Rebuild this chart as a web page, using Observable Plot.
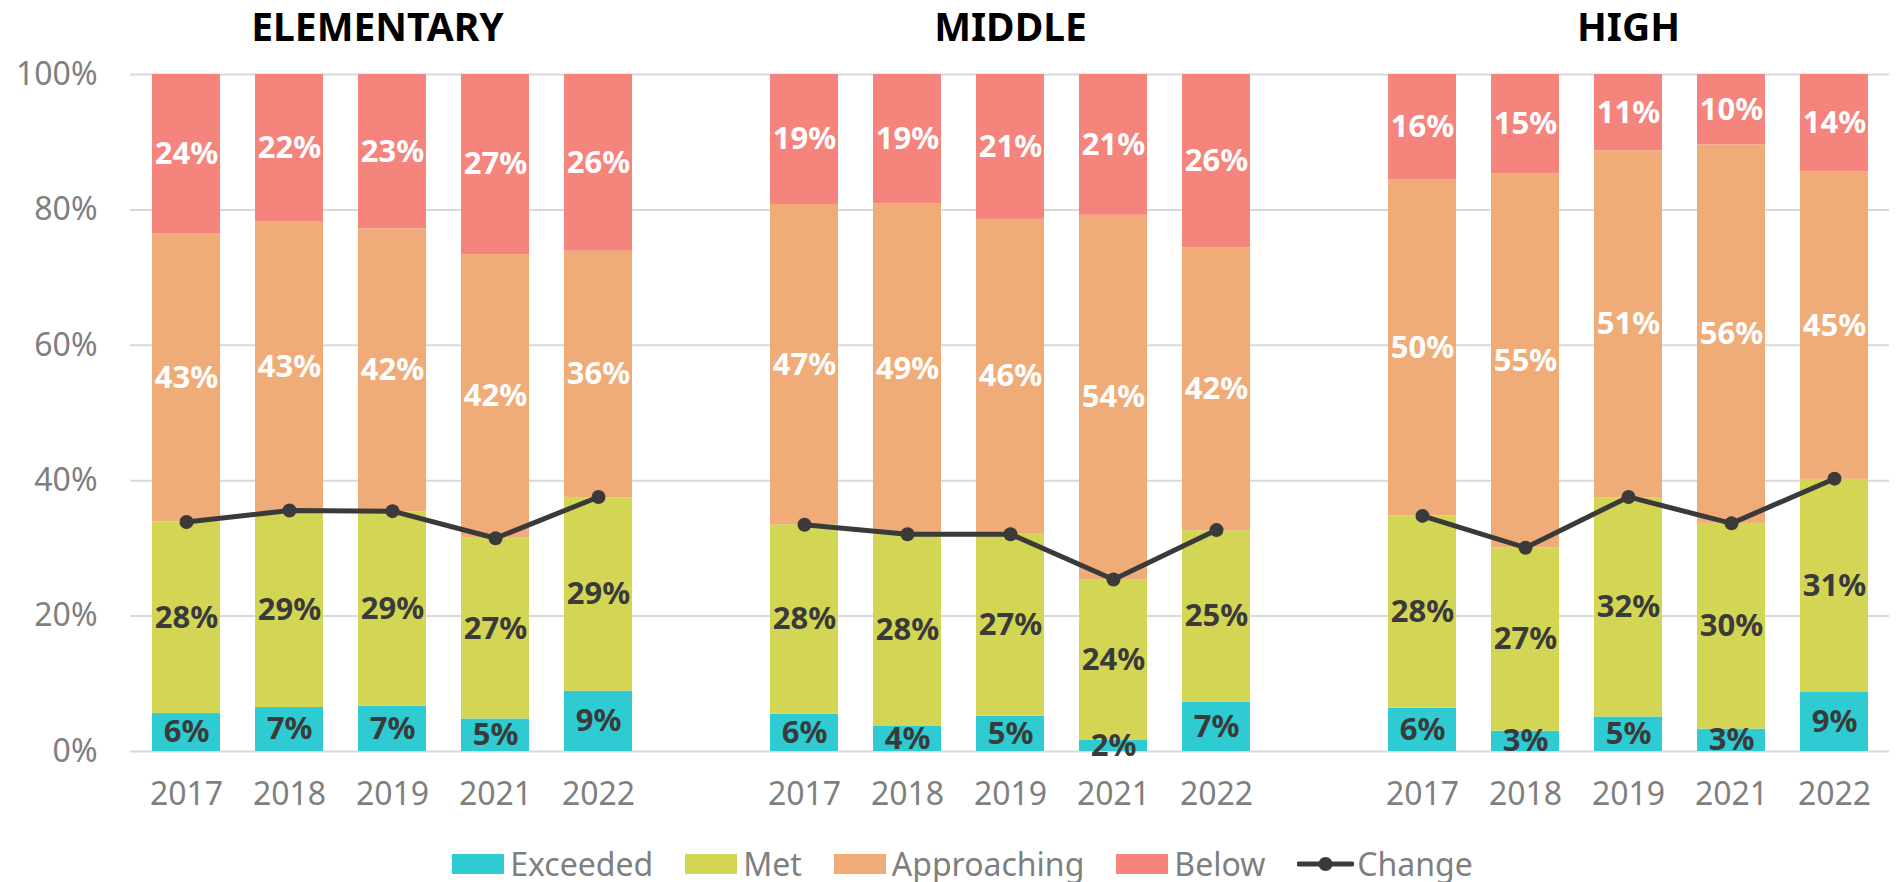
<!DOCTYPE html>
<html><head><meta charset="utf-8">
<script src="https://cdn.jsdelivr.net/npm/d3@7"></script>
<script src="https://cdn.jsdelivr.net/npm/@observablehq/plot@0.6"></script>
<style>
body{margin:0;background:#fff;font-family:"Noto Sans",sans-serif;}
#chart{width:1900px;}
.legend{display:flex;justify-content:center;align-items:center;height:37px;padding-left:25px;font-size:32px;color:#7f7f7f;font-family:"Noto Sans",sans-serif;}
.item{display:flex;align-items:center;margin:0 16px;}
.sw{width:52px;height:20px;margin-right:6px;}
</style></head><body><div id="chart"></div>
<script>
const groups = ["ELEMENTARY", "MIDDLE", "HIGH"];
const years = ["2017", "2018", "2019", "2021", "2022"];
const levels = ["Exceeded", "Met", "Approaching", "Below"];
const levelColors = ["#2ECBD2", "#D3D655", "#F0AC78", "#F4847C"];
const yTicks = [0, 20, 40, 60, 80, 100];

// values per group (ELEMENTARY, MIDDLE, HIGH), per year
const exceeded = [
  [5.6, 6.5, 6.7, 4.8, 8.9],
  [5.5, 3.7, 5.2, 1.7, 7.3],
  [6.4, 3.0, 5.1, 3.3, 8.8]
];
const met = [
  [28.3, 28.9, 28.7, 26.7, 28.6],
  [28.0, 28.4, 27.0, 23.7, 25.3],
  [28.4, 27.1, 32.4, 30.4, 31.4]
];
const approaching = [
  [42.6, 42.8, 41.8, 41.9, 36.4],
  [47.3, 48.8, 46.4, 53.8, 41.8],
  [49.6, 55.2, 51.2, 55.9, 45.4]
];
const below = [
  [23.5, 21.8, 22.8, 26.6, 26.1],
  [19.2, 19.1, 21.4, 20.8, 25.6],
  [15.6, 14.7, 11.3, 10.4, 14.4]
];
const change = [
  [33.9, 35.6, 35.5, 31.5, 37.6],
  [33.5, 32.1, 32.1, 25.4, 32.7],
  [34.8, 30.1, 37.6, 33.7, 40.3]
];

const series = [exceeded, met, approaching, below];
const key = (g, y) => g + "|" + y;

const domain = [];
groups.forEach((g, i) => {
  years.forEach(y => domain.push(key(g, y)));
  if (i < groups.length - 1) domain.push("gap" + i);
});

const rows = [];
const lineRows = [];
groups.forEach((g, gi) => {
  years.forEach((y, yi) => {
    levels.forEach((l, li) => rows.push({group: g, year: y, key: key(g, y), level: l, value: series[li][gi][yi]}));
    lineRows.push({group: g, year: y, key: key(g, y), value: change[gi][yi]});
  });
});

const dark = new Set(["Exceeded", "Met"]);
const fmt = d => Math.round(d.value) + "%";
const fontFamily = '"Noto Sans", sans-serif';
const titleAxis = (gs, dx) => Plot.axisX({anchor: "top", ticks: gs.map(g => key(g, years[2])),
  tickFormat: k => k.split("|")[0], tickSize: 0, tickPadding: 34, fontSize: 39, fontWeight: "bold",
  fill: "#000", label: null, dx});

const chart = Plot.plot({
  width: 1900,
  height: 845,
  marginLeft: 130,
  marginRight: 11,
  marginTop: 74,
  marginBottom: 94,
  style: {fontFamily, background: "#fff"},
  x: {domain, paddingInner: 0.34, paddingOuter: 0.17},
  y: {domain: [0, 100]},
  color: {domain: levels, range: levelColors},
  marks: [
    Plot.gridY(yTicks, {stroke: "#d9d9d9", strokeOpacity: 1, strokeWidth: 2}),
    Plot.barY(rows, Plot.stackY({x: "key", y: "value", fill: "level"})),
    Plot.line(lineRows, {x: "key", y: "value", z: "group", stroke: "#3a3a3a", strokeWidth: 5}),
    Plot.dot(lineRows, {x: "key", y: "value", r: 7, fill: "#3a3a3a"}),
    Plot.text(rows, Plot.stackY({x: "key", y: "value", z: "level",
      text: d => dark.has(d.level) ? fmt(d) : null,
      fill: "#3a3a3a", fontSize: 31, fontWeight: "bold"})),
    Plot.text(rows, Plot.stackY({x: "key", y: "value", z: "level",
      text: d => dark.has(d.level) ? null : fmt(d),
      fill: "#ffffff", fontSize: 31, fontWeight: "bold"})),
    Plot.axisY({ticks: yTicks, tickFormat: d => d + "%", tickSize: 0, tickPadding: 33,
      fontSize: 32, fill: "#7f7f7f", label: null}),
    Plot.axisX({ticks: domain.filter(k => !k.startsWith("gap")), tickFormat: k => k.split("|")[1],
      tickSize: 0, tickPadding: 31, fontSize: 32, fill: "#7f7f7f", label: null}),
    titleAxis(groups.slice(0, 1), -15),
    titleAxis(groups.slice(1), 0)
  ]
});

const root = document.getElementById("chart");
root.appendChild(chart);

const legend = document.createElement("div");
legend.className = "legend";
levels.forEach((l, i) => {
  const it = document.createElement("div");
  it.className = "item";
  it.innerHTML = `<span class="sw" style="background:${levelColors[i]}"></span><span>${l}</span>`;
  legend.appendChild(it);
});
const ch = document.createElement("div");
ch.className = "item";
ch.innerHTML = `<svg width="57" height="20" style="margin-right:3px"><line x1="2" x2="55" y1="10" y2="10" stroke="#3a3a3a" stroke-width="5" stroke-linecap="round"/><circle cx="28.5" cy="10" r="7" fill="#3a3a3a"/></svg><span>Change</span>`;
legend.appendChild(ch);
root.appendChild(legend);
</script>
</body></html>
